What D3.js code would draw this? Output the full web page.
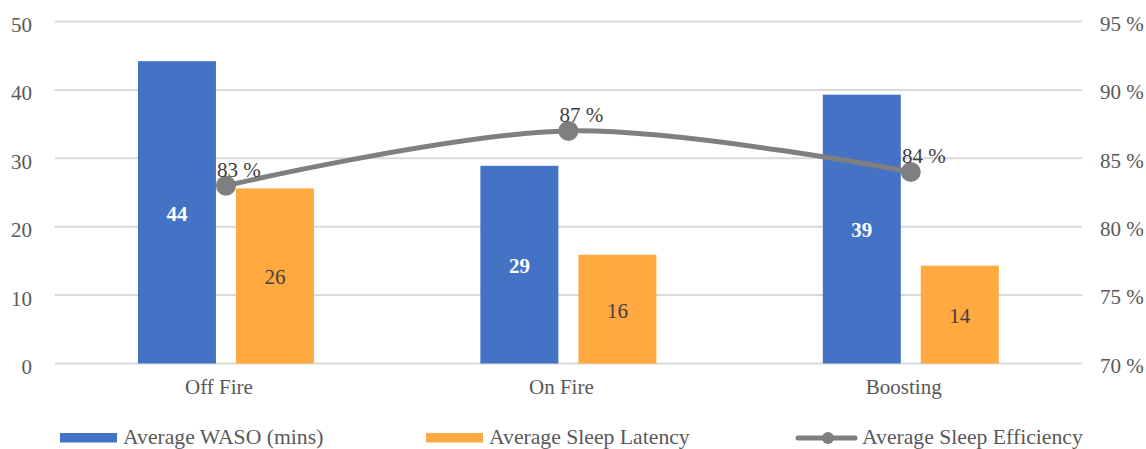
<!DOCTYPE html>
<html>
<head>
<meta charset="utf-8">
<script src="https://cdn.jsdelivr.net/npm/d3@7"></script>
<style>
  html, body { margin: 0; padding: 0; background: #fff; }
  svg { display: block; }
  text { font-family: "Liberation Serif", "Times New Roman", serif; }
</style>
</head>
<body>
<svg id="chart" width="1146" height="449"></svg>
<script>
// Sleep metrics by condition
const categories = ["Off Fire", "On Fire", "Boosting"];
const wasoMins = [44.2, 28.9, 39.3];          // Average WASO (mins)
const latencyMins = [25.6, 15.9, 14.3];       // Average Sleep Latency
const efficiencyPct = [83, 87, 84];           // Average Sleep Efficiency (%)
const leftTicks = [0, 10, 20, 30, 40, 50];
const rightTicks = [70, 75, 80, 85, 90, 95];
const seriesNames = ["Average WASO (mins)", "Average Sleep Latency", "Average Sleep Efficiency"];

const W = 1146, H = 449;
const plot = { left: 54.75, right: 1082, top: 21.5, bottom: 363.5 };
const colors = { waso: "#4472C4", latency: "#FFA940", eff: "#7F7F7F", grid: "#D9D9D9", axis: "#595959", label: "#404040" };
const fontSize = 21;
const legendFontSize = 21.7;

const svg = d3.select("#chart");
svg.append("rect").attr("width", W).attr("height", H).attr("fill", "#fff");

const x = d3.scaleBand().domain(categories).range([plot.left, plot.right]).padding(0);
const groupWidth = 176;
const xInner = d3.scaleBand().domain(["waso", "latency"]).range([0, groupWidth]).paddingInner(20 / 98).paddingOuter(0);
const yLeft = d3.scaleLinear().domain([0, 50]).range([plot.bottom, plot.top]);
const yRight = d3.scaleLinear().domain([70, 95]).range([plot.bottom, plot.top]);
const cx = c => x(c) + x.bandwidth() / 2;

// gridlines
svg.append("g").selectAll("line").data(leftTicks).join("line")
  .attr("x1", plot.left).attr("x2", plot.right)
  .attr("y1", d => yLeft(d)).attr("y2", d => yLeft(d))
  .attr("stroke", colors.grid).attr("stroke-width", 2);

// left axis labels
const leftAxis = d3.axisLeft(yLeft).tickValues(leftTicks).tickSize(0).tickPadding(0).tickFormat(d3.format("d"));
const gL = svg.append("g").attr("transform", "translate(32,0)").call(leftAxis);
gL.select(".domain").remove();
gL.selectAll("text").attr("fill", colors.axis).attr("font-size", fontSize)
  .attr("font-family", "Liberation Serif").attr("dy", "0.48em");

// right axis labels
const rightAxis = d3.axisRight(yRight).tickValues(rightTicks).tickSize(0).tickPadding(0).tickFormat(d => d + " %");
const gR = svg.append("g").attr("transform", "translate(1100,0)").call(rightAxis);
gR.select(".domain").remove();
gR.selectAll("text").attr("fill", colors.axis).attr("font-size", fontSize)
  .attr("font-family", "Liberation Serif").attr("dy", "0.42em");

// category labels
svg.append("g").selectAll("text").data(categories).join("text")
  .attr("x", d => cx(d) - 7).attr("y", 394)
  .attr("text-anchor", "middle").attr("fill", colors.axis).attr("font-size", fontSize)
  .text(d => d);

// bars
const barData = [];
categories.forEach((c, i) => {
  barData.push({ cat: c, key: "waso", v: wasoMins[i] });
  barData.push({ cat: c, key: "latency", v: latencyMins[i] });
});
const barX = d => cx(d.cat) - groupWidth / 2 + xInner(d.key);
svg.append("g").selectAll("rect").data(barData).join("rect")
  .attr("x", barX).attr("width", xInner.bandwidth())
  .attr("y", d => yLeft(d.v)).attr("height", d => yLeft(0) - yLeft(d.v))
  .attr("fill", d => colors[d.key]);

// bar value labels
svg.append("g").selectAll("text").data(barData).join("text")
  .attr("x", d => barX(d) + xInner.bandwidth() / 2)
  .attr("y", d => (yLeft(d.v) + yLeft(0)) / 2)
  .attr("dy", "0.4em")
  .attr("text-anchor", "middle").attr("font-size", fontSize)
  .attr("font-weight", d => d.key === "waso" ? "bold" : "normal")
  .attr("fill", d => d.key === "waso" ? "#fff" : colors.label)
  .text(d => d3.format(".0f")(d.v));

// efficiency line
const pts = categories.map((c, i) => ({ cat: c, v: efficiencyPct[i] }));
const line = d3.line().x(d => cx(d.cat)).y(d => yRight(d.v)).curve(d3.curveCardinal.tension(0));
svg.append("path").datum(pts).attr("d", line)
  .attr("fill", "none").attr("stroke", colors.eff).attr("stroke-width", 5).attr("stroke-linecap", "round");
svg.append("g").selectAll("circle").data(pts).join("circle")
  .attr("cx", d => cx(d.cat)).attr("cy", d => yRight(d.v)).attr("r", 10)
  .attr("fill", colors.eff);
svg.append("g").selectAll("text").data(pts).join("text")
  .attr("x", d => cx(d.cat) + 13).attr("y", d => yRight(d.v) - 9)
  .attr("text-anchor", "middle").attr("font-size", fontSize).attr("fill", colors.label)
  .text(d => d.v + " %");

// legend
const legend = svg.append("g");
const legendItems = [
  { name: seriesNames[0], type: "bar", color: colors.waso, x: 60, tx: 123 },
  { name: seriesNames[1], type: "bar", color: colors.latency, x: 426, tx: 489 },
  { name: seriesNames[2], type: "line", color: colors.eff, x: 795, tx: 862 }
];
const ly = 438;
legendItems.forEach(it => {
  if (it.type === "bar") {
    legend.append("rect").attr("x", it.x).attr("y", ly - 5).attr("width", 57).attr("height", 9.5).attr("fill", it.color);
  } else {
    legend.append("line").attr("x1", it.x + 3).attr("x2", it.x + 60).attr("y1", ly).attr("y2", ly)
      .attr("stroke", it.color).attr("stroke-width", 5).attr("stroke-linecap", "round");
    legend.append("circle").attr("cx", it.x + 33).attr("cy", ly).attr("r", 6).attr("fill", it.color);
  }
  legend.append("text").attr("x", it.tx).attr("y", 444)
    .attr("font-size", legendFontSize).attr("fill", colors.axis).text(it.name);
});
</script>
</body>
</html>
